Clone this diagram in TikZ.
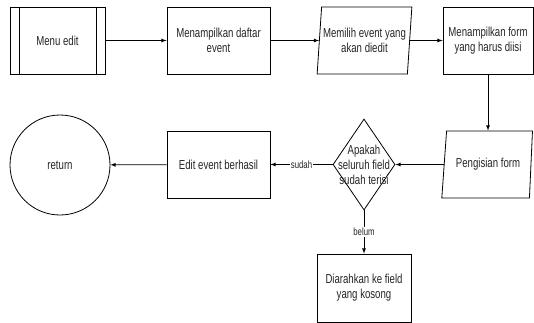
\documentclass[tikz,border=0pt]{standalone}
\usepackage{fontspec}
\setmainfont[FakeStretch=0.74]{Liberation Sans}
\usepackage{tikz}
\usetikzlibrary{shapes,arrows,positioning}

\begin{document}
\begin{tikzpicture}[x=1pt, y=-1pt, line width=0.8pt, >=latex]
		\tikzstyle{Proses}	= [rectangle, draw, fill=white, minimum width=103pt, minimum height=67pt, inner sep=0pt, align=center, font=\fontsize{13}{15}\selectfont, text=black!85]
		\tikzstyle{Data}	= [trapezium, draw, fill=white, trapezium stretches=true, minimum height=67pt, inner sep=0pt, align=center, font=\fontsize{13}{15}\selectfont, text=black!85]
		\tikzstyle{Cek}		= [diamond, draw, fill=white, minimum width=62pt, minimum height=91pt, inner sep=0pt]
		\tikzstyle{Ujung}	= [circle, draw, fill=white, minimum size=100pt, inner sep=0pt, font=\fontsize{13}{15}\selectfont, text=black!85]
		\tikzstyle{Label}	= [fill=white, inner sep=1pt, font=\fontsize{10.5}{12}\selectfont, text=black!85]
		\tikzstyle{Alur}	= [->, black]

		\useasboundingbox (0,0) rectangle (534,322);

		\node (menu) at (57.5, 40.5) [Proses, minimum width=95pt]{Menu edit};
		\node (tampil) at (218.5, 40.5) [Proses]{Menampilkan daftar\\event};
		\node (pilih) at (364.5, 40.5) [Data, minimum width=95pt, trapezium left angle=80, trapezium right angle=100]{Memilih event yang\\akan diedit};
		\node (form) at (488, 40.5) [Proses, minimum width=90pt]{Menampilkan form\\yang harus diisi};
		\node (isi) at (488, 164.5) [Data, minimum width=91pt, trapezium left angle=73, trapezium right angle=101]{Pengisian form};
		\node (cek) at (364, 164.5) [Cek]{};
		\node (cekteks) at (cek) [align=center, font=\fontsize{13}{15}\selectfont, text=black!85]{Apakah\\seluruh field\\sudah terisi};
		\node (berhasil) at (218.5, 164.5) [Proses]{Edit event berhasil};
		\node (kosong) at (364, 288) [Proses, minimum width=94pt, minimum height=68pt]{Diarahkan ke field\\yang kosong};
		\node (ret) at (60, 165) [Ujung]{return};

		\draw ([xshift=10pt]menu.north west) -- ([xshift=10pt]menu.south west);
		\draw ([xshift=-9pt]menu.north east) -- ([xshift=-9pt]menu.south east);

		\draw (menu) to (tampil) [Alur];
		\draw (tampil) to (pilih) [Alur];
		\draw (pilih) to (form) [Alur];
		\draw (form) to (isi) [Alur];
		\draw (isi) to (cek) [Alur];
		\draw (cek) to node [Label]{sudah} (berhasil) [Alur];
		\draw (cek) to node [Label]{belum} (kosong) [Alur];
		\draw (berhasil) to (ret) [Alur];
	\end{tikzpicture}
\end{document}
